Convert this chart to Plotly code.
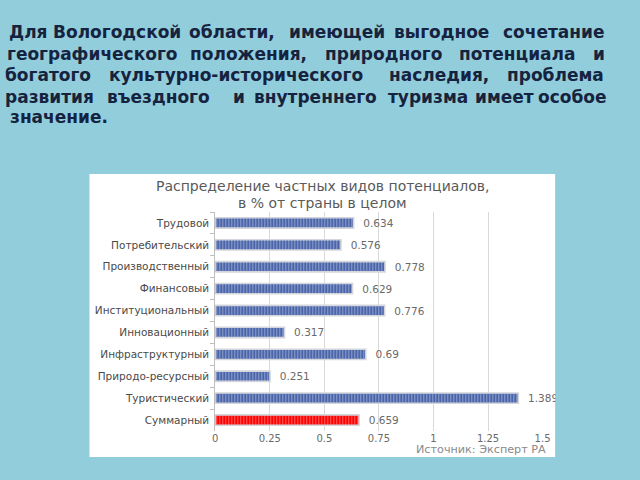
import plotly.graph_objects as go

# ---------------- data ----------------
categories = ["Трудовой", "Потребительский", "Производственный", "Финансовый",
              "Институциональный", "Инновационный", "Инфраструктурный",
              "Природо-ресурсный", "Туристический", "Суммарный"]
values = [0.634, 0.576, 0.778, 0.629, 0.776, 0.317, 0.69, 0.251, 1.389, 0.659]
value_labels = ["0.634", "0.576", "0.778", "0.629", "0.776", "0.317", "0.69", "0.251", "1.389", "0.659"]
bar_colors = ["#4A65AA"] * 9 + ["#FF0000"]
tick_vals = [0, 0.25, 0.5, 0.75, 1, 1.25, 1.5]
tick_text = ["0", "0.25", "0.5", "0.75", "1", "1.25", "1.5"]

chart_title_lines = ["Распределение частных видов потенциалов,", "в % от страны в целом"]
source_text = "Источник: Эксперт РА"

slide_lines = [
    "Для Вологодской области, имеющей выгодное сочетание",
    "географического положения, природного потенциала и",
    "богатого культурно-исторического наследия, проблема",
    "развития въездного и внутреннего туризма имеет особое",
    "значение.",
]

# ---------------- layout helpers (pixel -> paper, margins are zero) ----------------
W, H = 640, 480
def px(x):
    return x / W
def py(y):
    return 1 - y / H

# word centre positions (pixels) imitating the justified slide text
word_centres = [
    [26, 116, 233.5, 340, 446.5, 560],
    [91, 250, 387, 522.5, 606],
    [46, 237.5, 444, 562.5],
    [47, 158, 240, 317.5, 432.5, 510.5, 579.5],
    [57],
]
line_y = [32, 53.5, 75, 96.5, 117.5]

fig = go.Figure()

fig.add_trace(go.Bar(
    y=categories,
    x=values,
    orientation="h",
    marker=dict(
        color=bar_colors,
        line=dict(color="#D3D6DC", width=1.6),
        pattern=dict(shape="|", fgcolor="rgba(255,255,255,0.35)", size=3, solidity=0.25),
    ),
    text=["\u00a0\u00a0" + t for t in value_labels],
    textposition="outside",
    constraintext="none",
    textfont=dict(family="DejaVu Sans", size=10.5, color="#6A6A6A"),
    cliponaxis=False,
    width=0.47,
    hoverinfo="skip",
))

annotations = []
# slide text, word by word to imitate justification
for li, line in enumerate(slide_lines):
    for wi, word in enumerate(line.split(" ")):
        annotations.append(dict(
            text="<b>" + word + "</b>", xref="paper", yref="paper",
            x=px(word_centres[li][wi]), y=py(line_y[li]),
            xanchor="center", yanchor="middle", showarrow=False, borderpad=0,
            font=dict(family="DejaVu Sans", size=17, color="#16233F"),
        ))

for t, yy in zip(chart_title_lines, [185.5, 202.5]):
    annotations.append(dict(
        text=t, xref="paper", yref="paper", x=px(325.5), y=py(yy),
        xanchor="center", yanchor="middle", showarrow=False, borderpad=0,
        font=dict(family="DejaVu Sans", size=14, color="#5A5A5A"),
    ))
annotations.append(dict(
    text=source_text, xref="paper", yref="paper", x=px(486), y=py(449.5),
    xanchor="center", yanchor="middle", showarrow=False, borderpad=0,
    font=dict(family="DejaVu Sans", size=11.2, color="#8A8A8A"),
))

shapes = [
    # white chart box
    dict(type="rect", xref="paper", yref="paper", x0=px(88), x1=px(562), y0=py(457), y1=py(174),
         fillcolor="white", line=dict(width=0), layer="below"),
    # background strip to the right of the chart box (clips overflowing label)
    dict(type="rect", xref="paper", yref="paper", x0=px(562), x1=px(640), y0=py(460), y1=py(170),
         fillcolor="#92CDDC", line=dict(width=0), layer="above"),
]

fig.update_layout(
    width=W, height=H,
    margin=dict(l=0, r=0, t=0, b=0),
    paper_bgcolor="#92CDDC",
    plot_bgcolor="rgba(0,0,0,0)",
    showlegend=False,
    annotations=annotations,
    shapes=shapes,
    xaxis=dict(
        domain=[px(216), px(549)],
        range=[0, 1.5],
        tickvals=tick_vals, ticktext=tick_text,
        showgrid=True, gridcolor="#D9D9D9", gridwidth=1,
        zeroline=False, showline=False, ticks="",
        tickfont=dict(family="DejaVu Sans", size=10, color="#6A6A6A"),
        fixedrange=True,
    ),
    yaxis=dict(
        domain=[py(431), py(212)],
        autorange="reversed",
        showgrid=False, zeroline=False,
        showline=True, linecolor="#BFBFBF", linewidth=1,
        ticks="outside", tickson="boundaries", ticklen=4, tickcolor="#BFBFBF",
        tickfont=dict(family="DejaVu Sans", size=10.5, color="#4A4A4A"),
        ticklabelstandoff=3,
        fixedrange=True,
    ),
)

fig.write_html("out.html")
